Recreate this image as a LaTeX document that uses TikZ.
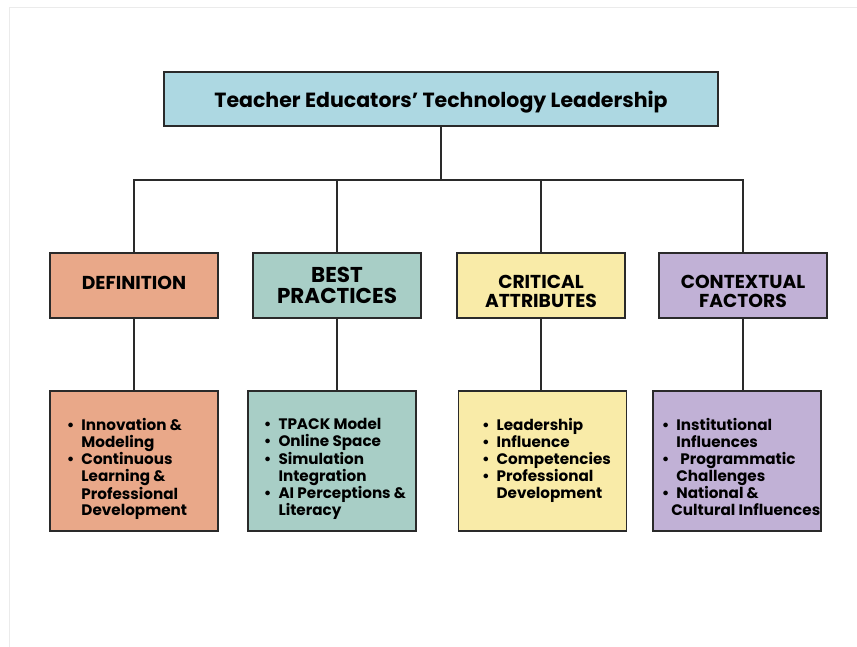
\documentclass[tikz,border=0pt]{standalone}
\usepackage{fontspec}
\setmainfont{Poppins}
\usepackage{array}

\definecolor{headblue}{HTML}{ADD8E2}
\definecolor{defsalmon}{HTML}{E9A889}
\definecolor{bestteal}{HTML}{A8CEC6}
\definecolor{crityellow}{HTML}{F9EBA8}
\definecolor{ctxlilac}{HTML}{C1B1D6}
\definecolor{boxline}{HTML}{2A2A2A}

% bullet lists set as two-column tables, hung from the top of the box;
% the optional argument nudges the list sideways
\newcommand{\pt}{\textbullet}
\newcommand{\itemlist}[2][0pt]{\vbox to 86pt{\hbox{\kern#1%
    \begin{tabular}{@{}l@{\hspace{7pt}}l@{}}#2\end{tabular}\kern-#1}\vss}}
% invisible struts to nudge a heading up or down in its box
\newcommand{\padtop}[1]{\rule{0pt}{#1}}
\newcommand{\padbot}[1]{\rule[-#1]{0pt}{#1}}

\begin{document}
\begin{tikzpicture}[x=1pt,y=-1pt,
    box/.style={draw=boxline, line width=1.8pt, inner sep=0pt, align=center, text=black},
    head/.style={box, fill=headblue, minimum width=554pt, minimum height=54pt,
        text depth=0pt, font=\bfseries\fontsize{20.5}{24}\selectfont},
    cat/.style={box, minimum width=168pt, minimum height=65pt,
        font=\bfseries\fontsize{18.7}{18.3}\selectfont},
    items/.style={box, minimum width=168pt, minimum height=140pt,
        font=\bfseries\fontsize{15.2}{16.8}\selectfont},
    link/.style={draw=boxline, line width=1.8pt}]
    \useasboundingbox (0,0) rectangle (857,647);
    \draw[black!8, line width=1pt] (9,647) -- (9,8) -- (857,8);

    \node[head] at (441,99) (title) {Teacher Educators’ Technology Leadership};

    \node[cat, fill=defsalmon]  at (134,285.5) (def)  {DEFINITION\padbot{6pt}};
    \node[cat, fill=bestteal, font=\bfseries\fontsize{21.5}{21.7}\selectfont]
                                at (337,285.5) (best) {BEST\\PRACTICES};
    \node[cat, fill=crityellow] at (541,285.5) (crit) {\padtop{25pt}CRITICAL\\ATTRIBUTES};
    \node[cat, fill=ctxlilac]   at (743,285.5) (ctx)  {\padtop{25pt}CONTEXTUAL\\FACTORS};

    \node[items, fill=defsalmon] at (134,461) (defitems) {\itemlist[-7pt]{%
        \pt & Innovation \& \\ & Modeling \\
        \pt & Continuous \\ & Learning \& \\ & Professional \\ & Development}};
    \node[items, fill=bestteal] at (332,461) (bestitems) {\itemlist[3pt]{%
        \pt & TPACK Model \\
        \pt & Online Space \\
        \pt & Simulation \\ & Integration \\
        \pt & AI Perceptions \& \\ & Literacy}};
    \node[items, fill=crityellow] at (542.5,461) (crititems) {\itemlist[4pt]{%
        \pt & Leadership \\
        \pt & Influence \\
        \pt & Competencies \\
        \pt & Professional \\ & Development}};
    \node[items, fill=ctxlilac] at (737,461) (ctxitems) {\itemlist[4pt]{%
        \pt & Institutional \\ & Influences \\
        \pt & \hspace{4pt}Programmatic \\ & Challenges \\
        \pt & National \& \\ & \hspace{-5pt}Cultural Influences}};

    % tree links
    \coordinate (split) at (441,180);
    \draw[link] (title.south) -- (split);
    \draw[link] (def.north) -- (def.north |- split) -- (ctx.north |- split) -- (ctx.north);
    \draw[link] (best.north) -- (best.north |- split);
    \draw[link] (crit.north) -- (crit.north |- split);

    \draw[link] (def.south)  -- (def.south |- defitems.north);
    \draw[link] (best.south) -- (best.south |- bestitems.north);
    \draw[link] (crit.south) -- (crit.south |- crititems.north);
    \draw[link] (ctx.south)  -- (ctx.south |- ctxitems.north);
\end{tikzpicture}
\end{document}
